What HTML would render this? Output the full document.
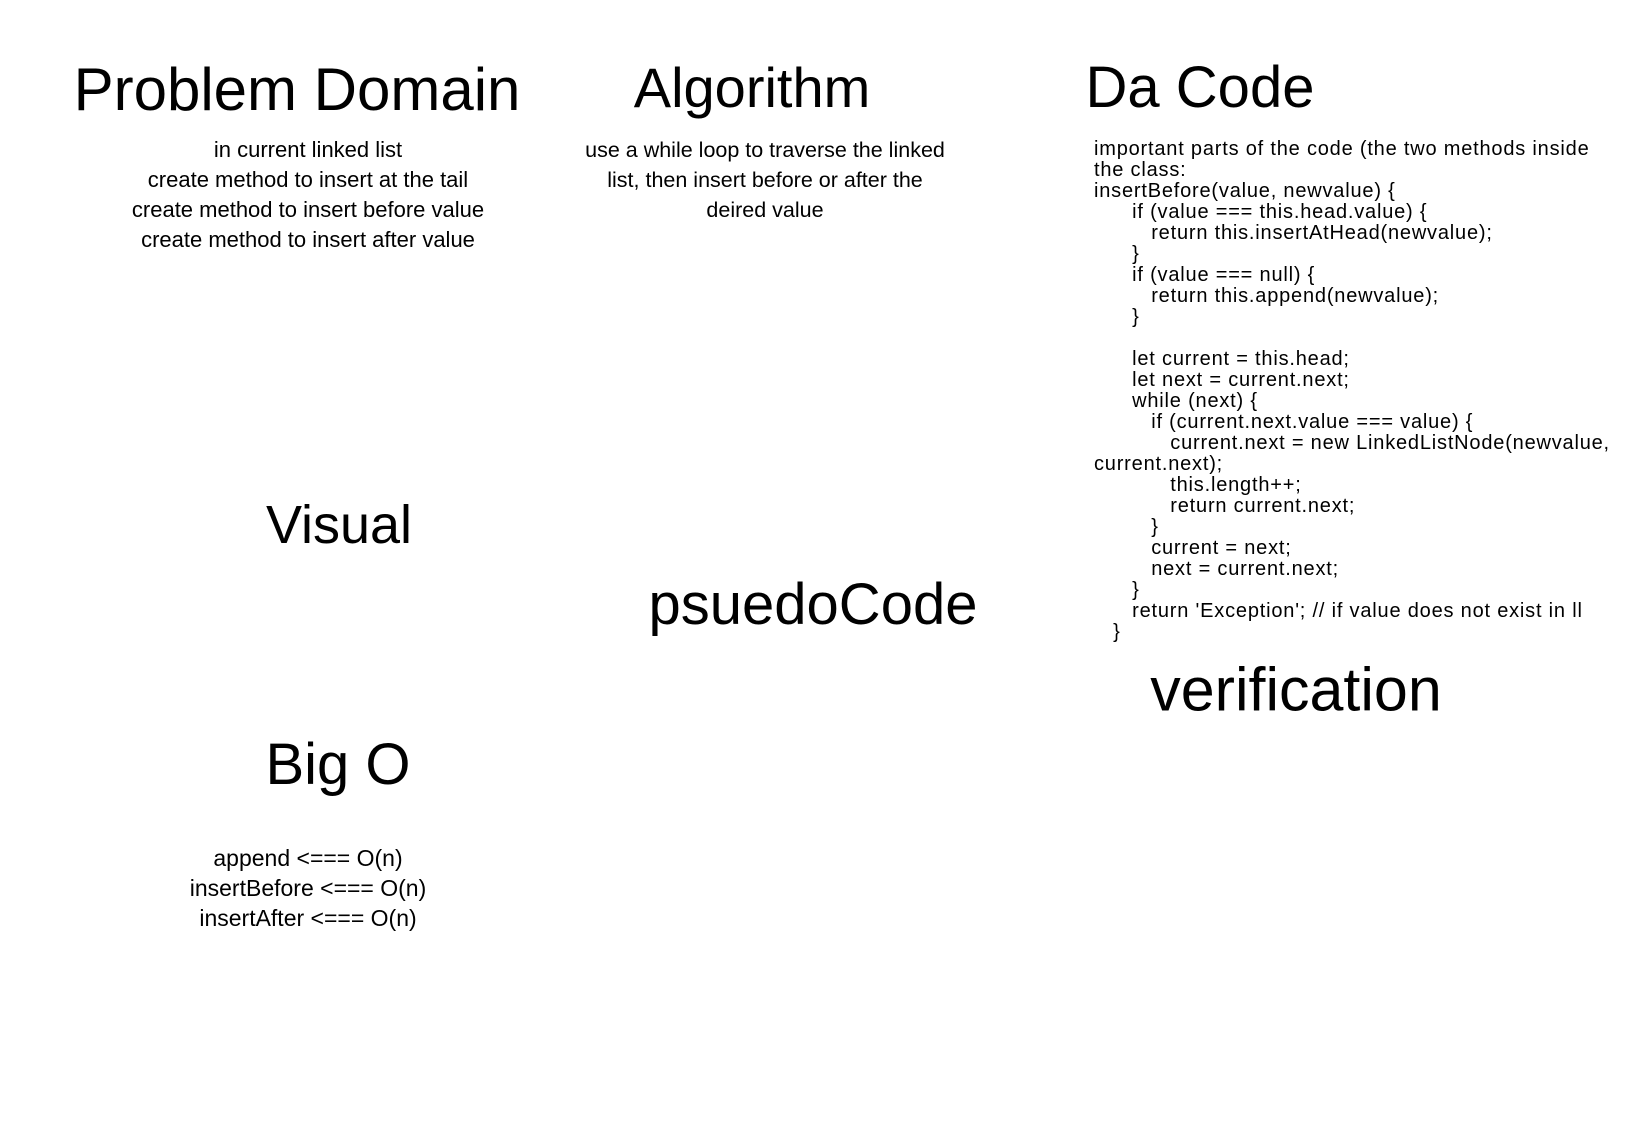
<!DOCTYPE html>
<html><head><meta charset="utf-8"><style>
html,body{margin:0;padding:0;background:#fff;}
body{width:1625px;height:1141px;position:relative;overflow:hidden;font-family:"Liberation Sans",sans-serif;color:#000;}
.t{position:absolute;white-space:nowrap;transform:translate(-50%,-50%);font-size:54px;line-height:1;}
.c{position:absolute;white-space:nowrap;transform:translateX(-50%);text-align:center;font-size:19px;line-height:30px;}
pre{position:absolute;margin:0;font-family:"Liberation Sans",sans-serif;font-size:20px;letter-spacing:0.8px;line-height:21px;left:1094px;top:139px;}
</style></head><body>
<div class="t" style="left:297px;top:90px;font-size:60px;">Problem Domain</div>
<div class="t" style="left:752px;top:88px;font-size:56px;">Algorithm</div>
<div class="t" style="left:1200px;top:88px;font-size:58px;">Da Code</div>
<div class="c" style="left:308px;top:135px;font-size:22px;">in current linked list<br>create method to insert at the tail<br>create method to insert before value<br>create method to insert after value</div>
<div class="c" style="left:765px;top:135px;font-size:21.5px;">use a while loop to traverse the linked<br>list, then insert before or after the<br>deired value</div>
<pre>important parts of the code (the two methods inside
the class:
insertBefore(value, newvalue) {
      if (value === this.head.value) {
         return this.insertAtHead(newvalue);
      }
      if (value === null) {
         return this.append(newvalue);
      }

      let current = this.head;
      let next = current.next;
      while (next) {
         if (current.next.value === value) {
            current.next = new LinkedListNode(newvalue,
current.next);
            this.length++;
            return current.next;
         }
         current = next;
         next = current.next;
      }
      return 'Exception'; // if value does not exist in ll
   }</pre>
<div class="t" style="left:339px;top:525px;">Visual</div>
<div class="t" style="left:813px;top:605px;font-size:58px;">psuedoCode</div>
<div class="t" style="left:1296px;top:690px;font-size:61px;">verification</div>
<div class="t" style="left:338px;top:765px;font-size:58px;">Big O</div>
<div class="c" style="left:308px;top:843px;font-size:23px;">append &lt;=== O(n)<br>insertBefore &lt;=== O(n)<br>insertAfter &lt;=== O(n)</div>
</body></html>
